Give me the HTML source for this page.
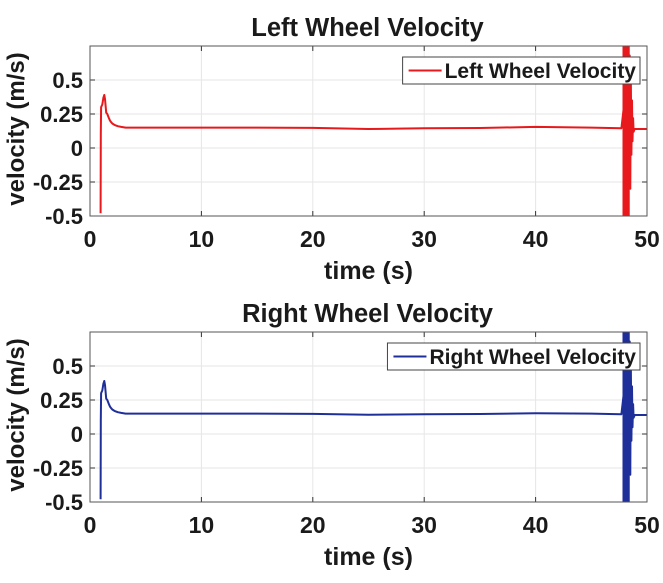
<!DOCTYPE html>
<html><head><meta charset="utf-8"><style>
body{margin:0;background:#fff;}
svg text{font-family:"Liberation Sans",Arial,sans-serif;font-weight:bold;fill:#1a1a1a;}
</style></head><body>
<svg id="chart" width="663" height="578" viewBox="0 0 663 578"></svg>
<script>
const timeS=[0.95,0.97,1.0,1.1,1.2,1.28,1.35,1.45,1.55,1.7,1.8,1.9,2.0,2.2,2.5,2.8,3.2,3.8,5,10,15,20,25,30,35,40,45,47.7,
48.45,48.5,48.55,48.6,48.65,48.7,48.75,48.8,48.9,49.2,50];
const leftVel=[-0.48,0.1,0.3,0.32,0.37,0.39,0.36,0.26,0.25,0.22,0.2,0.19,0.18,0.17,0.16,0.155,0.15,0.15,0.15,0.15,0.15,0.148,0.14,0.145,0.147,0.155,0.15,0.145,
0.68,-0.3,0.55,-0.05,0.35,0.05,0.22,0.12,0.14,0.14,0.14];
const rightVel=[-0.48,0.1,0.3,0.32,0.37,0.39,0.36,0.26,0.25,0.22,0.2,0.19,0.18,0.17,0.16,0.155,0.15,0.15,0.15,0.15,0.15,0.148,0.142,0.145,0.147,0.152,0.15,0.145,
0.68,-0.3,0.55,-0.05,0.35,0.05,0.22,0.12,0.14,0.14,0.14];
const xTicks=[0,10,20,30,40,50];
const yTicks=[-0.5,-0.25,0,0.25,0.5];
const yTickLabels=["-0.5","-0.25","0","0.25","0.5"];
const panels=[
 {title:"Left Wheel Velocity",vals:leftVel,color:"#e8191c",top:46,name:"left"},
 {title:"Right Wheel Velocity",vals:rightVel,color:"#1f2f9a",top:332,name:"right"}
];
const svg=document.getElementById('chart');
const NS="http://www.w3.org/2000/svg";
function mk(tag,attrs,parent){const e=document.createElementNS(NS,tag);for(const k in attrs)e.setAttribute(k,attrs[k]);(parent||svg).appendChild(e);return e;}
const L=90,R=647,H=170;
panels.forEach(p=>{
 const T=p.top,B=T+H;
 const xs=t=>L+(t/50)*(R-L);
 const ys=v=>B-((v+0.5)/1.25)*H;
 const g=mk('g',{});
 
 
 const bg=mk('rect',{x:L,y:T,width:R-L,height:H,fill:'#fff'},g);
 
 
 xTicks.forEach(t=>{
  const x=xs(t);
  if(t>0&&t<50){const gl=mk('line',{x1:x,x2:x,y1:T,y2:B,stroke:'#e6e6e6','stroke-width':1},g);
   }
  mk('line',{x1:x,x2:x,y1:B,y2:B-5,stroke:'#333'},g);
  mk('line',{x1:x,x2:x,y1:T,y2:T+5,stroke:'#333'},g);
  const tx=mk('text',{x:x,y:B+31,'text-anchor':'middle','font-size':23},g);tx.textContent=t;
  
 });
 yTicks.forEach((v,i)=>{
  const y=ys(v);
  if(v>-0.5){const gl=mk('line',{x1:L,x2:R,y1:y,y2:y,stroke:'#e6e6e6','stroke-width':1},g);
   }
  mk('line',{x1:L,x2:L+5,y1:y,y2:y,stroke:'#333'},g);
  mk('line',{x1:R,x2:R-5,y1:y,y2:y,stroke:'#333'},g);
  const tx=mk('text',{x:L-7,y:y+8,'text-anchor':'end','font-size':22},g);tx.textContent=yTickLabels[i];
  
 });
 const pts=timeS.map((t,i)=>xs(t).toFixed(1)+','+Math.max(T,Math.min(B,ys(p.vals[i]))).toFixed(1)).join(' ');
 const ln=mk('polyline',{points:pts,fill:'none',stroke:p.color,'stroke-width':2,'stroke-linejoin':'round'},g);
 
 
 const band=mk('rect',{x:xs(47.8),y:T,width:xs(48.45)-xs(47.8),height:H,fill:p.color},g);
 
 
 const fr=mk('rect',{x:L,y:T,width:R-L,height:H,fill:'none',stroke:'#555','stroke-width':1},g);
 
 const ti=mk('text',{x:(L+R)/2-1,y:T-10,'text-anchor':'middle','font-size':25.5,fill:'#111'},g);ti.textContent=p.title;
 
 const xl=mk('text',{x:(L+R)/2,y:B+63,'text-anchor':'middle','font-size':25},g);xl.textContent='time (s)';
 
 const yl=mk('text',{x:0,y:0,'text-anchor':'middle','font-size':24,transform:`translate(24,${T+H/2-2}) rotate(-90)`},g);yl.textContent='velocity (m/s)';
 
 const lg=mk('g',{},g);
 
 const box=mk('rect',{x:399,y:T+11,width:240,height:27,fill:'#fff',stroke:'#444','stroke-width':1},lg);
 const lline=mk('line',{x1:405,x2:437,y1:T+24.5,y2:T+24.5,stroke:p.color,'stroke-width':2},lg);
 const lt=mk('text',{x:636,y:T+32,'font-size':21,fill:'#111','text-anchor':'end'},lg);lt.textContent=p.title;
 
 const w=lt.getComputedTextLength();
 const sx=636-w;
 lline.setAttribute('x1',sx-36);lline.setAttribute('x2',sx-3);
 box.setAttribute('x',sx-42);box.setAttribute('width',640-(sx-42));
});
</script>
</body></html>
